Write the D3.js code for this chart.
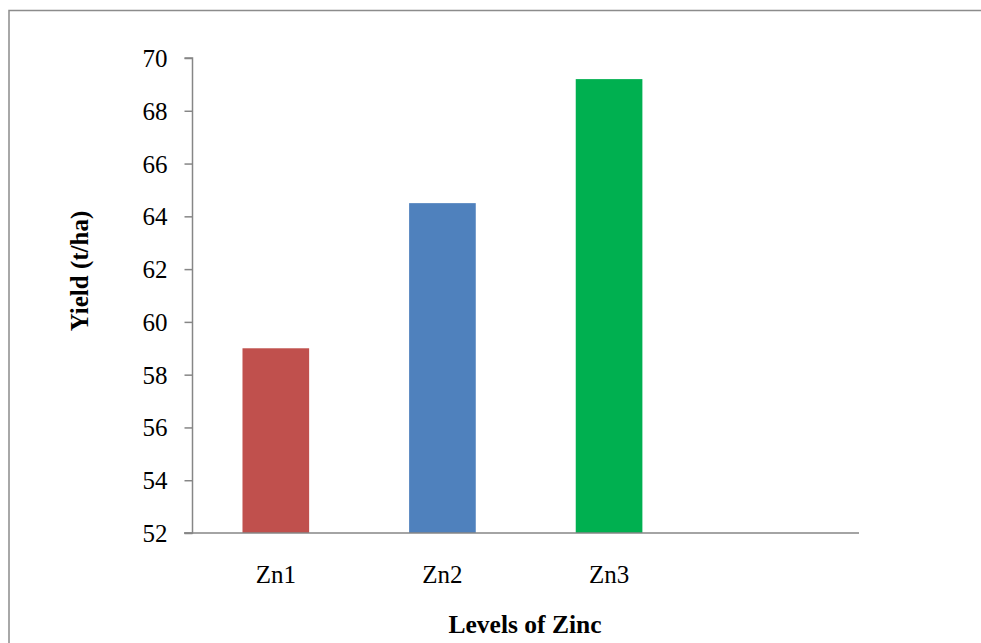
<!DOCTYPE html>
<html><head><meta charset="utf-8">
<script src="https://cdn.jsdelivr.net/npm/d3@7"></script>
<style>body{margin:0;background:#fff}svg{display:block}</style>
</head><body>
<script>
const categories = ["Zn1", "Zn2", "Zn3", ""];
const values = [59.0, 64.5, 69.2, null];
const colors = ["#C0504D", "#4F81BD", "#00B050", "#ffffff"];
const yTicks = [52, 54, 56, 58, 60, 62, 64, 66, 68, 70];
const xTitle = "Levels of Zinc";
const yTitle = "Yield (t/ha)";

const W = 981, H = 643;
const svg = d3.select("body").append("svg").attr("width", W).attr("height", H);
svg.append("rect").attr("x", 9).attr("y", 10.5).attr("width", 1000).attr("height", 700)
  .attr("fill", "none").attr("stroke", "#8c8c8c").attr("stroke-width", 1.5);

const x = d3.scaleBand().domain(categories.map((c,i)=>i)).range([192.5, 859]).paddingInner(0.6).paddingOuter(0.3);
const y = d3.scaleLinear().domain([52, 70]).range([533, 58]);

svg.selectAll("rect.bar").data(values.map((v,i)=>({v,i})).filter(d=>d.v!=null)).enter()
  .append("rect").attr("class","bar")
  .attr("x", d=>x(d.i)).attr("width", x.bandwidth())
  .attr("y", d=>y(d.v)).attr("height", d=>y(52)-y(d.v))
  .attr("fill", d=>colors[d.i]);

const yAxis = svg.append("g").attr("transform","translate(192.5,0)")
  .call(d3.axisLeft(y).tickValues(yTicks).tickSize(8).tickPadding(17).tickFormat(d3.format("d")));
yAxis.select(".domain").attr("stroke","#868686").attr("stroke-width",1.5).attr("d","M-8,58H0V533H-8");
yAxis.selectAll(".tick line").attr("stroke","#868686").attr("stroke-width",1.5);
yAxis.selectAll(".tick text").attr("font-family","Liberation Serif").attr("font-size","25px").attr("fill","#000").attr("dy","0.34em");

const xAxis = svg.append("g").attr("transform","translate(0,533)")
  .call(d3.axisBottom(x).tickSize(0).tickPadding(0).tickFormat(i=>categories[i]));
xAxis.select(".domain").attr("stroke","#868686").attr("stroke-width",1.5).attr("d","M184,0H859");
xAxis.selectAll(".tick text").attr("font-family","Liberation Serif").attr("font-size","25px").attr("fill","#000")
  .attr("y", 50).attr("dy", 0);

svg.append("text").attr("x", 525).attr("y", 633).attr("text-anchor","middle")
  .attr("font-family","Liberation Serif").attr("font-weight","bold").attr("font-size","25.5px").text(xTitle);
svg.append("text").attr("transform","translate(88,271) rotate(-90)").attr("text-anchor","middle")
  .attr("font-family","Liberation Serif").attr("font-weight","bold").attr("font-size","25px").text(yTitle);
</script>
</body></html>
